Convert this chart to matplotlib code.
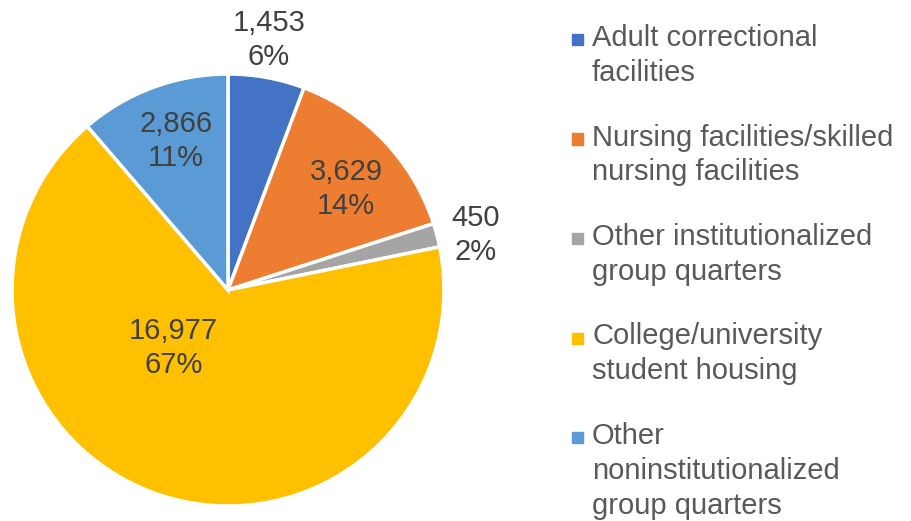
import matplotlib
matplotlib.use("Agg")
import matplotlib.pyplot as plt
from matplotlib.patches import Rectangle

plt.rcParams['font.family'] = ['Liberation Sans', 'DejaVu Sans']

# Data
categories = [
    "Adult correctional\nfacilities",
    "Nursing facilities/skilled\nnursing facilities",
    "Other institutionalized\ngroup quarters",
    "College/university\nstudent housing",
    "Other\nnoninstitutionalized\ngroup quarters",
]
counts = [1453, 3629, 450, 16977, 2866]
colors = ["#4472C4", "#ED7D31", "#A5A5A5", "#FFC000", "#5B9BD5"]

# label positions in pie data units (radius = 1)
label_pos = [(0.19, 1.157), (0.546, 0.468), (1.148, 0.255), (-0.252, -0.269), (-0.241, 0.690)]

W, H = 911, 521
fig = plt.figure(figsize=(W / 100, H / 100), dpi=100)

cx, cy, r = 228, 290, 216
ax = fig.add_axes([(cx - r) / W, (H - cy - r) / H, 2 * r / W, 2 * r / H])
ax.pie(counts, colors=colors, startangle=90, counterclock=False,
       wedgeprops=dict(edgecolor="white", linewidth=2.5), radius=1)
ax.set_xlim(-1, 1)
ax.set_ylim(-1, 1)
ax.set_aspect("equal")
ax.axis("off")

total = sum(counts)
for val, (x, y) in zip(counts, label_pos):
    ax.text(x, y, f"{val:,}\n{round(100 * val / total)}%", ha="center", va="center",
            fontsize=21, color="#404040", linespacing=1.28, clip_on=False)

# legend drawn by hand
first_top = 24
step = 99.5
for i, (cat, col) in enumerate(zip(categories, colors)):
    top = first_top + i * step
    fig.text(592 / W, 1 - top / H, cat, ha="left", va="top",
             fontsize=21, color="#595959", linespacing=1.31)
    fig.add_artist(Rectangle((572 / W, 1 - (top + 21) / H), 11 / W, 11 / H,
                             transform=fig.transFigure, color=col))

fig.savefig("out.png", dpi=100)
